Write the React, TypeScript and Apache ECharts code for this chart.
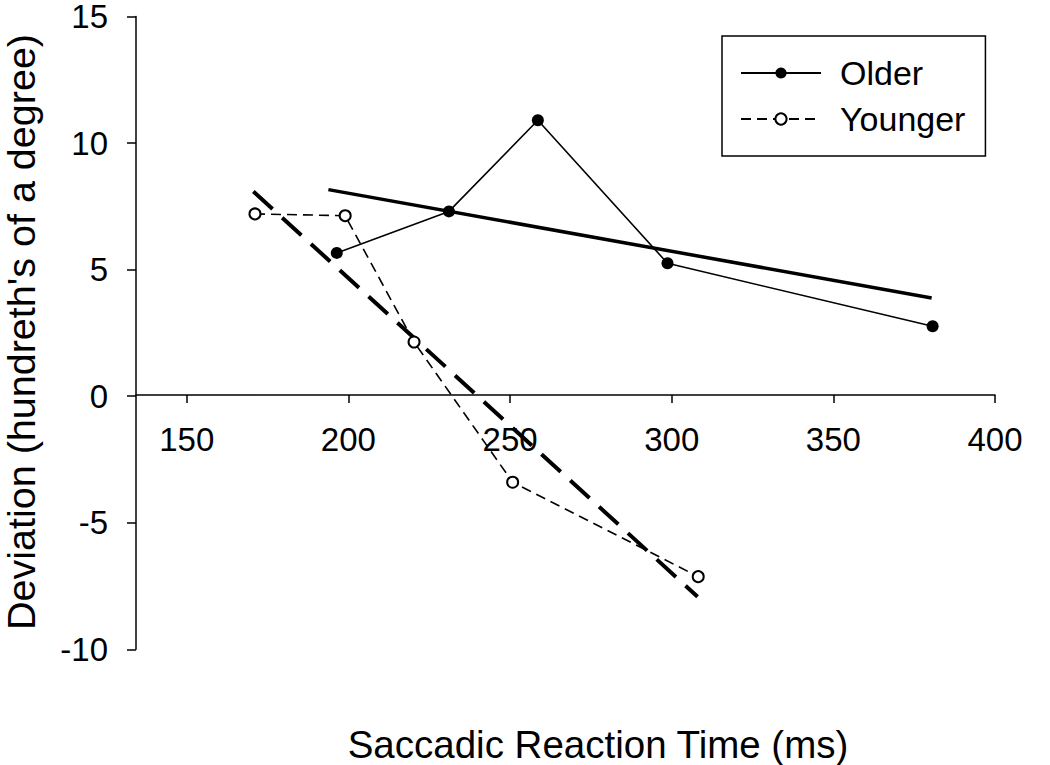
import React, { useEffect, useRef } from "react";
import * as echarts from "echarts";

const xTicks = [150, 200, 250, 300, 350, 400];
const olderData: [number, number][] = [
  [196.4, 5.66],
  [231.1, 7.3],
  [258.6, 10.9],
  [298.7, 5.25],
  [380.7, 2.76],
];
const youngerData: [number, number][] = [
  [171.1, 7.2],
  [199.0, 7.13],
  [220.3, 2.14],
  [250.8, -3.4],
  [308.2, -7.13],
];
const olderFit: [number, number][] = [
  [193.8, 8.16],
  [380.4, 3.88],
];
const youngerFit: [number, number][] = [
  [170.6, 8.09],
  [308.0, -7.92],
];

const FONT = "'Liberation Sans', Arial, Helvetica, sans-serif";

export default function App() {
  const ref = useRef<HTMLDivElement>(null);
  useEffect(() => {
    if (!ref.current) return;
    const chart = echarts.init(ref.current, null, { renderer: "svg" });
    chart.setOption({
      animation: false,
      backgroundColor: "#fff",
      textStyle: { fontFamily: FONT, color: "#000" },
      grid: { left: 136, top: 13.3, width: 859, height: 636, containLabel: false },
      xAxis: {
        type: "value",
        min: 134.3,
        max: 400,
        position: "bottom",
        offset: -254.3,
        axisLine: { show: true, onZero: false, lineStyle: { color: "#000", width: 1.5 } },
        axisTick: { show: true, length: 8, customValues: xTicks, lineStyle: { color: "#000", width: 1.5 } },
        axisLabel: { customValues: xTicks, fontSize: 33, color: "#000", margin: 28, fontFamily: FONT },
        splitLine: { show: false },
      },
      yAxis: {
        type: "value",
        min: -10,
        max: 15,
        interval: 5,
        axisLine: { show: true, onZero: false, lineStyle: { color: "#000", width: 1.5 } },
        axisTick: { show: true, length: 9, lineStyle: { color: "#000", width: 1.5 } },
        axisLabel: { fontSize: 33, lineHeight: 24, color: "#000", margin: 28, fontFamily: FONT },
        splitLine: { show: false },
      },
      legend: {
        data: ["Older", "Younger"],
        orient: "vertical",
        left: 722,
        top: 36,
        itemWidth: 80,
        itemHeight: 14,
        itemGap: 12,
        padding: [20, 20, 20, 18],
        borderColor: "#000",
        borderWidth: 1.5,
        textStyle: { fontSize: 34, color: "#000", fontFamily: FONT, padding: [0, 0, 0, 14] },
      },
      graphic: [
        {
          type: "text",
          x: 598,
          y: 744,
          style: {
            text: "Saccadic Reaction Time (ms)",
            fontSize: 38.5,
            fill: "#000",
            fontFamily: FONT,
            align: "center",
            verticalAlign: "middle",
          },
        },
        {
          type: "text",
          x: 21,
          y: 332,
          rotation: Math.PI / 2,
          style: {
            text: "Deviation (hundreth's of a degree)",
            fontSize: 39.5,
            lineHeight: 34,
            fill: "#000",
            fontFamily: FONT,
            align: "center",
            verticalAlign: "middle",
          },
        },
      ],
      series: [
        {
          name: "Older fit",
          type: "line",
          data: olderFit,
          symbol: "none",
          lineStyle: { color: "#000", width: 3.5 },
          z: 2,
        },
        {
          name: "Younger fit",
          type: "line",
          data: youngerFit,
          symbol: "none",
          lineStyle: { color: "#000", width: 4, type: [26, 13] },
          z: 2,
        },
        {
          name: "Older",
          type: "line",
          data: olderData,
          symbol: "circle",
          symbolSize: 12,
          itemStyle: { color: "#000" },
          lineStyle: { color: "#000", width: 1.6 },
          z: 3,
        },
        {
          name: "Younger",
          type: "line",
          data: youngerData,
          symbol: "emptyCircle",
          symbolSize: 11,
          itemStyle: { color: "#000", borderColor: "#000", borderWidth: 1.5 },
          lineStyle: { color: "#000", width: 1.6, type: [10, 6] },
          z: 3,
        },
      ],
    });
    return () => chart.dispose();
  }, []);
  return (
    <div
      ref={ref}
      style={{ position: "fixed", left: 0, top: 0, width: 1050, height: 765, background: "#fff" }}
    />
  );
}
